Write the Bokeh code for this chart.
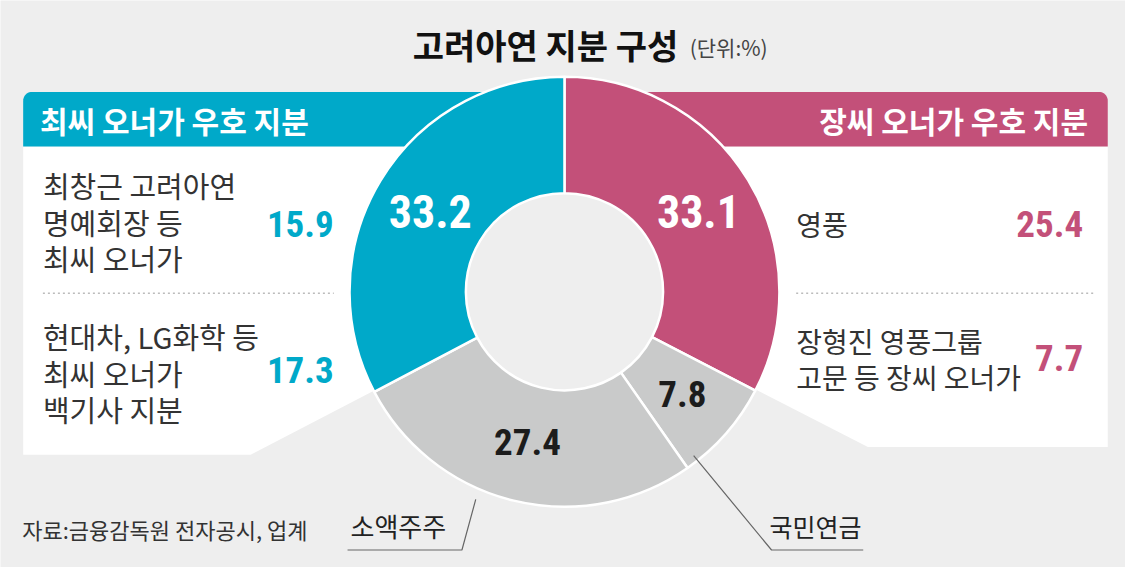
import math
from bokeh.plotting import figure
from bokeh.models import Range1d
from bokeh.core.properties import value
from bokeh.embed import file_html
from bokeh.resources import INLINE

# ---------------- data ----------------
categories = ["장씨 오너가 우호 지분", "국민연금", "소액주주", "최씨 오너가 우호 지분"]
shares = [33.1, 7.8, 27.4, 33.2]
seg_colors = ["#c35079", "#c9caca", "#c9caca", "#00a9c9"]
seg_label_colors = ["#ffffff", "#1c1c1c", "#1c1c1c", "#ffffff"]

choi_items = [["최창근 고려아연", "명예회장 등", "최씨 오너가"],
              ["현대차, LG화학 등", "최씨 오너가", "백기사 지분"]]
choi_values = [15.9, 17.3]
jang_items = [["영풍"], ["장형진 영풍그룹", "고문 등 장씨 오너가"]]
jang_values = [25.4, 7.7]

title = "고려아연 지분 구성"
unit = "(단위:%)"
source = "자료:금융감독원 전자공시, 업계"

# ---------------- layout helpers ----------------
W, H = 1125, 567          # figure size in px
RW, RH = 1141, 583        # reference frame units
KR = value("Noto Sans CJK KR")
NUM = value("Roboto Condensed")
BG = "#eeeeee"
BLUE, PINK = seg_colors[3], seg_colors[0]


def fx(x):
    return x


def fy(y):
    return RH - y


p = figure(width=W, height=H, output_backend="svg", toolbar_location=None,
           x_range=Range1d(0, RW), y_range=Range1d(0, RH), min_border=0,
           background_fill_color=BG, border_fill_color=BG)
p.axis.visible = False
p.grid.visible = False
p.outline_line_color = None

cx, cy = fx(572), fy(299.5)
r_in, r_out = 100, 218
total = sum(shares)
cum = [0.0]
for s in shares:
    cum.append(cum[-1] + s)
theta = [2 * math.pi * c / total for c in cum]  # clockwise from top


def ray_at_y(th, ytarget):
    dx, dy = math.sin(th), math.cos(th)
    t = (ytarget - cy) / dy
    return cx + dx * t


def rounded_rect(x0, y0, x1, y1, r, corner):
    xs, ys = [], []
    if corner == "tl":
        xs += [x1, x1, x0]
        ys += [y0, y1, y1]
        for k in range(0, 11):
            a = math.pi - (math.pi / 2) * k / 10
            xs.append(x0 + r + r * math.cos(a))
            ys.append(y0 + r - r * math.sin(a))
    else:
        xs += [x0, x0, x1]
        ys += [y0, y1, y1]
        for k in range(0, 11):
            a = (math.pi / 2) * k / 10
            xs.append(x1 - r + r * math.cos(a))
            ys.append(y0 + r - r * math.sin(a))
    return [fx(v) for v in xs], [fy(v) for v in ys]


# ---------------- panels ----------------
left_bottom, right_bottom = 467, 459
lb_x = ray_at_y(theta[3], fy(left_bottom))
p.patch([fx(23), cx, cx, lb_x, fx(23)],
        [fy(150), fy(150), cy, fy(left_bottom), fy(left_bottom)],
        fill_color="white", line_color=None)
rb_x = ray_at_y(theta[1], fy(right_bottom))
p.patch([cx, fx(1123), fx(1123), rb_x, cx],
        [fy(150), fy(150), fy(right_bottom), fy(right_bottom), cy],
        fill_color="white", line_color=None)

xs, ys = rounded_rect(23, 94, 572, 150, 9, "tl")
p.patch(xs, ys, fill_color=BLUE, line_color=None)
xs, ys = rounded_rect(572, 94, 1123, 150, 9, "tr")
p.patch(xs, ys, fill_color=PINK, line_color=None)

# ---------------- donut ----------------
p.circle(x=[cx], y=[cy], radius=r_in, fill_color=BG, line_color=None)
starts = [math.pi / 2 - theta[i + 1] for i in range(len(shares))]
ends = [math.pi / 2 - theta[i] for i in range(len(shares))]
p.annular_wedge(x=[cx] * len(shares), y=[cy] * len(shares), inner_radius=r_in, outer_radius=r_out,
                start_angle=starts, end_angle=ends, direction="anticlock",
                fill_color=seg_colors, line_color="white", line_width=2.5)

r_mid = (r_in + r_out) / 2
for i, s in enumerate(shares):
    mid = (theta[i] + theta[i + 1]) / 2
    lx = cx + r_mid * math.sin(mid)
    ly = cy + r_mid * math.cos(mid)
    big = seg_label_colors[i] == "#ffffff"
    p.text(x=[lx], y=[ly], text=[f"{s}"], text_font=NUM,
           text_font_size="46px" if big else "37px",
           text_font_style="bold",
           text_color=seg_label_colors[i], text_align="center", text_baseline="middle")

# ---------------- headers & titles ----------------
p.text(x=[fx(418)], y=[fy(45)], text=[title], text_font=KR, text_font_size="34px",
       text_font_style="bold", text_color="#111111", text_align="left", text_baseline="middle")
p.text(x=[fx(699)], y=[fy(48)], text=[unit], text_font=KR, text_font_size="21px",
       text_color="#444444", text_align="left", text_baseline="middle")
p.text(x=[fx(40)], y=[fy(123)], text=[categories[3]], text_font=KR, text_font_size="30px",
       text_font_style="bold", text_color="white", text_align="left", text_baseline="middle")
p.text(x=[fx(1103)], y=[fy(123)], text=[categories[0]], text_font=KR, text_font_size="30px",
       text_font_style="bold", text_color="white", text_align="right", text_baseline="middle")

# ---------------- left body ----------------
line_h = 37.5
left_blocks_y = [190, 345]
left_val_y = [230, 380]
for k, lines in enumerate(choi_items):
    for j, t in enumerate(lines):
        p.text(x=[fx(43)], y=[fy(left_blocks_y[k] + j * line_h)], text=[t], text_font=KR,
               text_font_size="29px", text_color="#333333", text_align="left", text_baseline="middle")
    p.text(x=[fx(338)], y=[fy(left_val_y[k])], text=[f"{choi_values[k]}"], text_font=NUM,
           text_font_size="37px", text_font_style="bold", text_color=BLUE,
           text_align="right", text_baseline="middle")
p.line([fx(43), fx(338)], [fy(301), fy(301)], line_color="#bbbbbb", line_width=1.5, line_dash="2 3")

# ---------------- right body ----------------
right_blocks_y = [230, 350]
right_val_y = [230, 368]
for k, lines in enumerate(jang_items):
    for j, t in enumerate(lines):
        p.text(x=[fx(807)], y=[fy(right_blocks_y[k] + j * line_h)], text=[t], text_font=KR,
               text_font_size="28px", text_color="#333333", text_align="left", text_baseline="middle")
    p.text(x=[fx(1098)], y=[fy(right_val_y[k])], text=[f"{jang_values[k]}"], text_font=NUM,
           text_font_size="37px", text_font_style="bold", text_color=PINK,
           text_align="right", text_baseline="middle")
p.line([fx(807), fx(1110)], [fy(301), fy(301)], line_color="#bbbbbb", line_width=1.5, line_dash="2 3")

# ---------------- callouts ----------------
p.line([fx(352), fx(468), fx(482)], [fy(565), fy(565), fy(513)], line_color="#666666", line_width=1.2)
p.text(x=[fx(355)], y=[fy(540)], text=[categories[2]], text_font=KR, text_font_size="26px",
       text_color="#222222", text_align="left", text_baseline="middle")
p.line([fx(703), fx(782), fx(875)], [fy(468), fy(565), fy(565)], line_color="#666666", line_width=1.2)
p.text(x=[fx(780)], y=[fy(540)], text=[categories[1]], text_font=KR, text_font_size="25px",
       text_color="#222222", text_align="left", text_baseline="middle")

p.text(x=[fx(22)], y=[fy(543)], text=[source], text_font=KR, text_font_size="22px",
       text_color="#333333", text_align="left", text_baseline="middle")

open("out.html", "w").write(file_html(p, INLINE))
